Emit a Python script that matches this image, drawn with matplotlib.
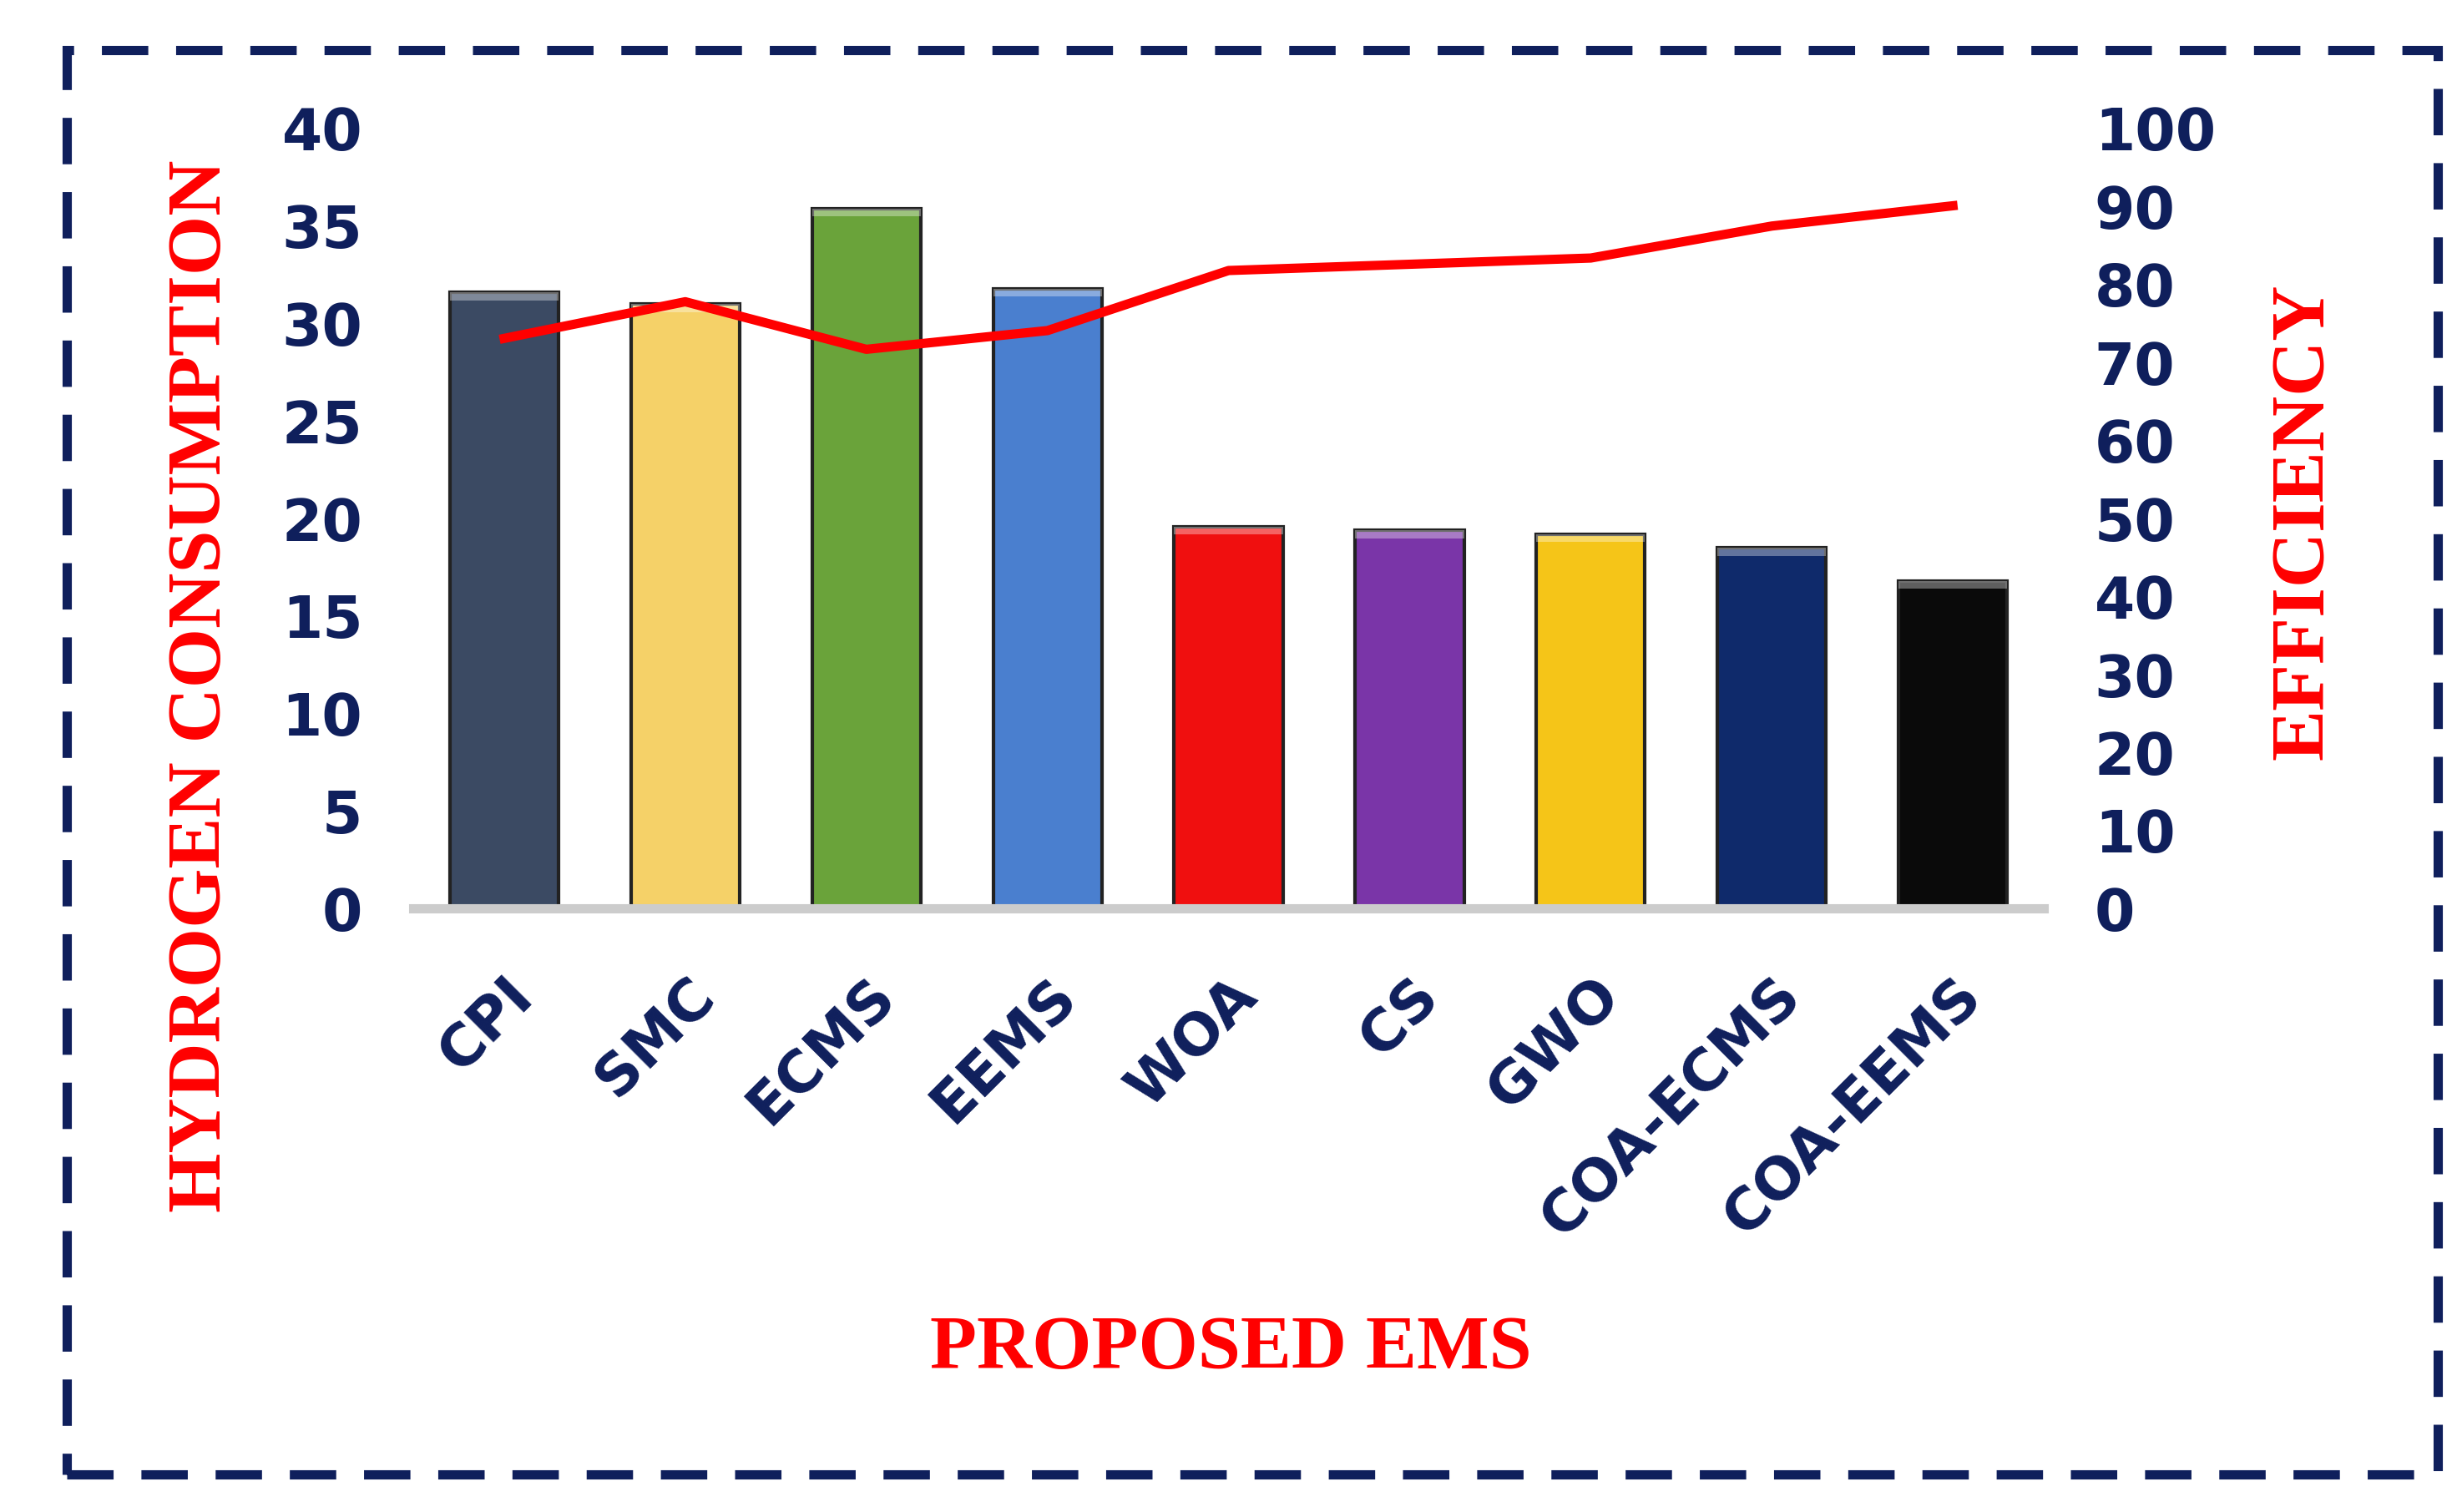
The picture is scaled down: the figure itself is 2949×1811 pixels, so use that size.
import matplotlib
matplotlib.use("Agg")
import matplotlib.pyplot as plt
from matplotlib.patches import Rectangle

categories = ["CPI", "SMC", "ECMS", "EEMS", "WOA", "CS", "GWO", "COA-ECMS", "COA-EEMS"]
hydrogen = [31.6, 31.0, 35.9, 31.8, 19.6, 19.4, 19.2, 18.5, 16.8]
efficiency = [73.1, 77.8, 71.7, 74.1, 81.8, 82.6, 83.4, 87.5, 90.1]
bar_colors = ["#3b4a63", "#f5d168", "#6aa33a", "#4a7fcf", "#f00f0f", "#7a35a8", "#f5c518", "#0f2a6b", "#0a0a0a"]
navy = "#0f1f5c"

fig = plt.figure(figsize=(14.745, 9.055), dpi=200)
ax = fig.add_axes([0.168, 0.399, 0.662, 0.516])
x = range(len(categories))
ax.bar(x, hydrogen, width=0.6, color=bar_colors, edgecolor="#222222", linewidth=1.5, zorder=2)
ax.bar(x, [0.4]*9, bottom=[h-0.4 for h in hydrogen], width=0.6, color="white", alpha=0.35, zorder=3)
ax.set_ylim(0, 40)
ax.set_xlim(-0.5, 8.5)
ax.set_yticks(range(0, 41, 5))
ax.set_xticks(list(x))
ax.set_xticklabels(categories, rotation=45, ha="right", rotation_mode="anchor")
for s in ["top", "right", "left"]:
    ax.spines[s].set_visible(False)
ax.spines["bottom"].set_color("#cccccc")
ax.spines["bottom"].set_linewidth(4)
ax.tick_params(length=0, labelcolor=navy, labelsize=25)
for t in ax.get_xticklabels() + ax.get_yticklabels():
    t.set_fontweight("bold")
ax.tick_params(axis="y", pad=22)
ax.tick_params(axis="x", pad=25)

ax2 = ax.twinx()
ax2.plot(list(x), efficiency, color="red", linewidth=4, zorder=5)
ax2.set_ylim(0, 100)
ax2.set_yticks(range(0, 101, 10))
for s in ["top", "right", "left", "bottom"]:
    ax2.spines[s].set_visible(False)
ax2.tick_params(length=0, labelcolor=navy, labelsize=25, pad=22)
for t in ax2.get_yticklabels():
    t.set_fontweight("bold")

serif = dict(color="red", fontsize=33, fontweight="bold", family="Liberation Serif")
fig.text(0.082, 0.546, "HYDROGEN CONSUMPTION", rotation=90, ha="center", va="center", **serif)
fig.text(0.936, 0.655, "EFFICIENCY", rotation=90, ha="center", va="center", **serif)
fig.text(0.5, 0.107, "PROPOSED EMS", ha="center", va="center", **serif)
fig.patches.append(Rectangle((0.027, 0.025), 0.963, 0.942, transform=fig.transFigure, fill=False,
                             edgecolor=navy, linewidth=4, linestyle=(0, (5, 3))))
fig.savefig("out.png", dpi=200)
